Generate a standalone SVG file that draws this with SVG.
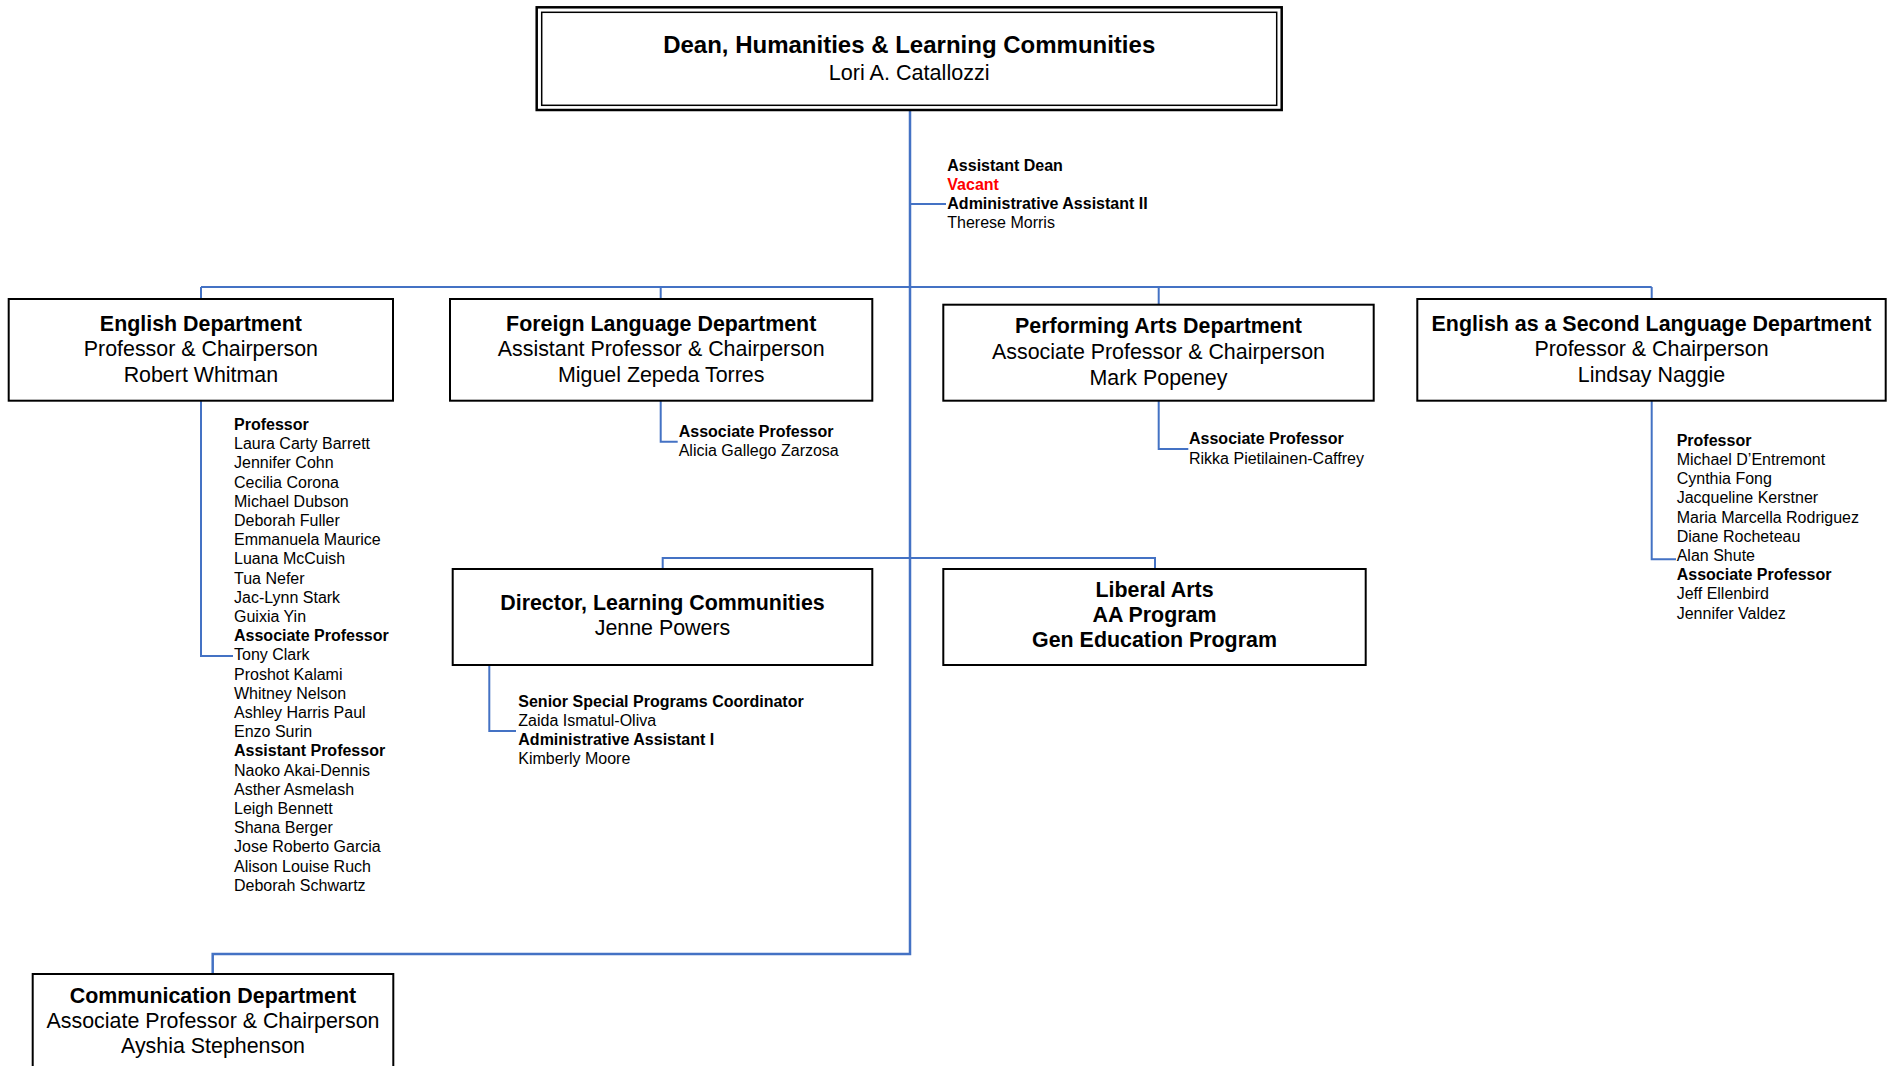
<svg xmlns="http://www.w3.org/2000/svg" width="1891" height="1066" viewBox="0 0 1891 1066">
  <style>
    .box { fill: #ffffff; stroke: #000000; stroke-width: 2; }
    .outer { fill: #ffffff; stroke: #000000; stroke-width: 2.5; }
    .inner { fill: none; stroke: #000000; stroke-width: 1.5; }
    .link { fill: none; stroke: #4472C4; stroke-width: 2; }
    .main { fill: none; stroke: #4472C4; stroke-width: 2.5; }
    text { font-family: "Liberation Sans", Arial, sans-serif; fill: #000000; }
    .t { font-size: 21.4px; font-weight: bold; text-anchor: middle; }
    .s { font-size: 21.4px; text-anchor: middle; }
    .dt { font-size: 24px; font-weight: bold; text-anchor: middle; }
    .ds { font-size: 21.6px; text-anchor: middle; }
    .h { font-size: 16px; font-weight: bold; }
    .n { font-size: 16px; }
    .red { fill: #FF0000; }
  </style>

  <!-- connectors -->
  <g id="connectors">
    <!-- trunk from the dean down to the communication department -->
    <path class="main" d="M910,110 V954 H212.7 V974"/>
    <!-- top bus to the four departments -->
    <path class="link" d="M201,287 H1651.7"/>
    <path class="link" d="M201,287 V299"/>
    <path class="link" d="M660.7,287 V299"/>
    <path class="link" d="M1158.7,287 V304.7"/>
    <path class="link" d="M1651.7,287 V299"/>
    <!-- middle bus to director and liberal arts -->
    <path class="link" d="M662.7,569 V558 H1155 V569"/>
    <!-- staff stubs -->
    <path class="link" d="M910,204 H946"/>
    <path class="link" d="M201,401 V656 H233"/>
    <path class="link" d="M660.7,401 V441.7 H677.7"/>
    <path class="link" d="M1158.7,401 V449 H1188.3"/>
    <path class="link" d="M1651.7,401 V559.3 H1676"/>
    <path class="link" d="M489.3,665 V731 H516"/>
  </g>

  <!-- dean -->
  <g id="dean">
    <rect class="outer" x="536.7" y="7.3" width="745" height="102.7"/>
    <rect class="inner" x="541.7" y="12.3" width="735" height="93"/>
    <text class="dt" x="909.2" y="53">Dean, Humanities &amp; Learning Communities</text>
    <text class="ds" x="909.2" y="79.5">Lori A. Catallozzi</text>
  </g>

  <!-- assistant dean staff -->
  <g id="dean-staff">
    <text class="h" x="947.3" y="170.7">Assistant Dean</text>
    <text class="h red" x="947.3" y="189.5">Vacant</text>
    <text class="h" x="947.3" y="208.5">Administrative Assistant II</text>
    <text class="n" x="947.3" y="227.7">Therese Morris</text>
  </g>

  <!-- English department -->
  <g id="english">
    <rect class="box" x="8.7" y="299" width="384.3" height="101.7"/>
    <text class="t" x="200.9" y="331">English Department</text>
    <text class="s" x="200.9" y="356.3">Professor &amp; Chairperson</text>
    <text class="s" x="200.9" y="381.7">Robert Whitman</text>
  </g>
  <g id="english-staff">
    <text class="h" x="234" y="430">Professor</text>
    <text class="n" x="234" y="449.2">Laura Carty Barrett</text>
    <text class="n" x="234" y="468.4">Jennifer Cohn</text>
    <text class="n" x="234" y="487.6">Cecilia Corona</text>
    <text class="n" x="234" y="506.8">Michael Dubson</text>
    <text class="n" x="234" y="526">Deborah Fuller</text>
    <text class="n" x="234" y="545.2">Emmanuela Maurice</text>
    <text class="n" x="234" y="564.4">Luana McCuish</text>
    <text class="n" x="234" y="583.6">Tua Nefer</text>
    <text class="n" x="234" y="602.8">Jac-Lynn Stark</text>
    <text class="n" x="234" y="622">Guixia Yin</text>
    <text class="h" x="234" y="641.2">Associate Professor</text>
    <text class="n" x="234" y="660.4">Tony Clark</text>
    <text class="n" x="234" y="679.6">Proshot Kalami</text>
    <text class="n" x="234" y="698.8">Whitney Nelson</text>
    <text class="n" x="234" y="718">Ashley Harris Paul</text>
    <text class="n" x="234" y="737.2">Enzo Surin</text>
    <text class="h" x="234" y="756.4">Assistant Professor</text>
    <text class="n" x="234" y="775.6">Naoko Akai-Dennis</text>
    <text class="n" x="234" y="794.8">Asther Asmelash</text>
    <text class="n" x="234" y="814">Leigh Bennett</text>
    <text class="n" x="234" y="833.2">Shana Berger</text>
    <text class="n" x="234" y="852.4">Jose Roberto Garcia</text>
    <text class="n" x="234" y="871.6">Alison Louise Ruch</text>
    <text class="n" x="234" y="890.8">Deborah Schwartz</text>
  </g>

  <!-- Foreign language department -->
  <g id="foreign-language">
    <rect class="box" x="450" y="299" width="422.3" height="101.7"/>
    <text class="t" x="661.2" y="331">Foreign Language Department</text>
    <text class="s" x="661.2" y="356.3">Assistant Professor &amp; Chairperson</text>
    <text class="s" x="661.2" y="381.7">Miguel Zepeda Torres</text>
  </g>
  <g id="foreign-language-staff">
    <text class="h" x="678.7" y="436.7">Associate Professor</text>
    <text class="n" x="678.7" y="455.7">Alicia Gallego Zarzosa</text>
  </g>

  <!-- Performing arts department -->
  <g id="performing-arts">
    <rect class="box" x="943.3" y="304.7" width="430.4" height="96"/>
    <text class="t" x="1158.5" y="333.3">Performing Arts Department</text>
    <text class="s" x="1158.5" y="359">Associate Professor &amp; Chairperson</text>
    <text class="s" x="1158.5" y="384.7">Mark Popeney</text>
  </g>
  <g id="performing-arts-staff">
    <text class="h" x="1189" y="444">Associate Professor</text>
    <text class="n" x="1189" y="463.7">Rikka Pietilainen-Caffrey</text>
  </g>

  <!-- ESL department -->
  <g id="esl">
    <rect class="box" x="1417.3" y="299" width="468.4" height="101.7"/>
    <text class="t" x="1651.5" y="331">English as a Second Language Department</text>
    <text class="s" x="1651.5" y="356.3">Professor &amp; Chairperson</text>
    <text class="s" x="1651.5" y="381.7">Lindsay Naggie</text>
  </g>
  <g id="esl-staff">
    <text class="h" x="1676.7" y="445.7">Professor</text>
    <text class="n" x="1676.7" y="464.9">Michael D’Entremont</text>
    <text class="n" x="1676.7" y="484.1">Cynthia Fong</text>
    <text class="n" x="1676.7" y="503.3">Jacqueline Kerstner</text>
    <text class="n" x="1676.7" y="522.5">Maria Marcella Rodriguez</text>
    <text class="n" x="1676.7" y="541.7">Diane Rocheteau</text>
    <text class="n" x="1676.7" y="560.9">Alan Shute</text>
    <text class="h" x="1676.7" y="580.1">Associate Professor</text>
    <text class="n" x="1676.7" y="599.3">Jeff Ellenbird</text>
    <text class="n" x="1676.7" y="618.5">Jennifer Valdez</text>
  </g>

  <!-- Learning communities director -->
  <g id="director">
    <rect class="box" x="452.7" y="569" width="419.6" height="96"/>
    <text class="t" x="662.5" y="610">Director, Learning Communities</text>
    <text class="s" x="662.5" y="635">Jenne Powers</text>
  </g>
  <g id="director-staff">
    <text class="h" x="518.3" y="706.7">Senior Special Programs Coordinator</text>
    <text class="n" x="518.3" y="725.8">Zaida Ismatul-Oliva</text>
    <text class="h" x="518.3" y="744.9">Administrative Assistant I</text>
    <text class="n" x="518.3" y="764">Kimberly Moore</text>
  </g>

  <!-- Liberal arts programs -->
  <g id="liberal-arts">
    <rect class="box" x="943.3" y="569" width="422.4" height="96"/>
    <text class="t" x="1154.5" y="596.7">Liberal Arts</text>
    <text class="t" x="1154.5" y="622">AA Program</text>
    <text class="t" x="1154.5" y="647.3">Gen Education Program</text>
  </g>

  <!-- Communication department -->
  <g id="communication">
    <rect class="box" x="32.7" y="974" width="360.6" height="110"/>
    <text class="t" x="213" y="1002.7">Communication Department</text>
    <text class="s" x="213" y="1028">Associate Professor &amp; Chairperson</text>
    <text class="s" x="213" y="1053.3">Ayshia Stephenson</text>
  </g>
</svg>
